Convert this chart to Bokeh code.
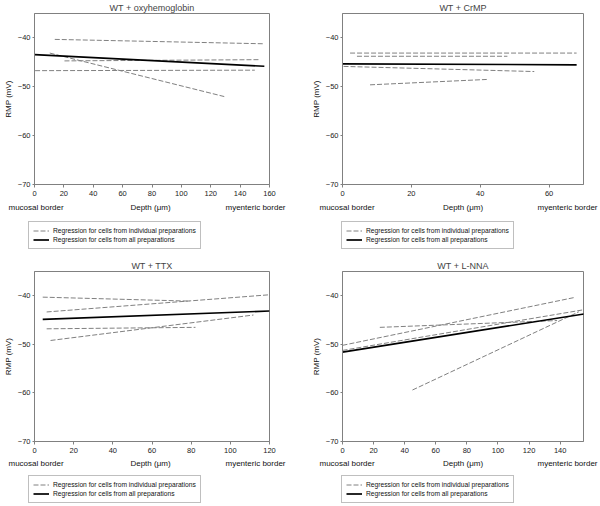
from bokeh.plotting import figure
from bokeh.models import ColumnDataSource, Range1d, FixedTicker, Legend, LegendItem
from bokeh.layouts import column, row
from bokeh.embed import file_html
from bokeh.resources import INLINE

FONT = "Liberation Sans"

titles = ["WT + oxyhemoglobin", "WT + CrMP", "WT + TTX", "WT + L-NNA"]
x_max = [160, 70, 120, 155]
x_ticks = [[0, 20, 40, 60, 80, 100, 120, 140, 160],
           [0, 20, 40, 60],
           [0, 20, 40, 60, 80, 100, 120],
           [0, 20, 40, 60, 80, 100, 120, 140]]
y_ticks = [-40, -50, -60, -70]
x_title = "Depth (\u03bcm)"
y_title = "RMP (mV)"
left_note = "mucosal border"
right_note = "myenteric border"
legend_labels = ["Regression for cells from individual preparations",
                 "Regression for cells from all preparations"]

# individual-preparation regressions (start x, end x, start y, end y)
oxy_x0 = [13.8, 10.4, 20.4, 0.4]
oxy_x1 = [156.5, 129.2, 152.5, 150.0]
oxy_y0 = [-40.3, -43.1, -44.7, -46.7]
oxy_y1 = [-41.2, -52.0, -44.45, -46.6]
oxy_all_x = [0.0, 156.5]
oxy_all_y = [-43.4, -45.8]

crmp_x0 = [2.2, 4.2, 0.3, 8.0]
crmp_x1 = [68.0, 47.9, 55.7, 41.9]
crmp_y0 = [-43.1, -43.75, -45.83, -49.6]
crmp_y1 = [-43.1, -43.75, -46.88, -48.5]
crmp_all_x = [0.0, 68.0]
crmp_all_y = [-45.3, -45.5]

ttx_x0 = [4.2, 6.2, 6.2, 8.2]
ttx_x1 = [79.4, 119.7, 82.2, 111.8]
ttx_y0 = [-40.28, -43.33, -46.8, -49.2]
ttx_y1 = [-41.1, -39.8, -46.5, -43.96]
ttx_all_x = [4.2, 120.0]
ttx_all_y = [-44.86, -43.13]

lnna_x0 = [0.0, 24.0, 0.0, 45.0]
lnna_x1 = [149.2, 138.0, 154.7, 152.0]
lnna_y0 = [-50.2, -46.5, -51.25, -59.4]
lnna_y1 = [-40.35, -45.1, -42.9, -43.3]
lnna_all_x = [0.0, 155.3]
lnna_all_y = [-51.6, -43.75]

panels = [
    (oxy_x0, oxy_x1, oxy_y0, oxy_y1, oxy_all_x, oxy_all_y),
    (crmp_x0, crmp_x1, crmp_y0, crmp_y1, crmp_all_x, crmp_all_y),
    (ttx_x0, ttx_x1, ttx_y0, ttx_y1, ttx_all_x, ttx_all_y),
    (lnna_x0, lnna_x1, lnna_y0, lnna_y1, lnna_all_x, lnna_all_y),
]

GREY = "#808080"
DASH = "5 2"
COL_W = [300, 298]
MAIN_H = [198, 197]
LOW_H = [60, 49]
LEG_Y = [9, 1]
TXT_FROM_TOP = [9, 8]


def geom(i):
    c = i % 2
    w = COL_W[c]
    # (min left border, right border, nominal frame left for notes, legend left)
    if c == 0:
        return w, 29, 31, 31, 28
    return w, 42, 15, 42, 41


def no_align(fig):
    try:
        fig.frame_align = False
    except Exception:
        pass


def make_panel(i):
    x0, x1, y0, y1, ax, ay = panels[i]
    w, bl, br, _, _ = geom(i)
    p = figure(width=w, height=MAIN_H[i // 2], output_backend="svg", toolbar_location=None,
               x_range=Range1d(0, x_max[i]), y_range=Range1d(-70, -35),
               min_border_left=bl, min_border_right=br,
               min_border_top=0, min_border_bottom=0)
    no_align(p)
    p.title.text = titles[i]
    p.title.align = "center"
    p.title.text_font = FONT
    p.title.text_font_size = "9px"
    p.title.text_font_style = "normal"
    p.title.standoff = 1
    p.xgrid.visible = False
    p.ygrid.visible = False
    p.outline_line_color = GREY
    p.outline_line_width = 1

    for ax_ in (p.xaxis[0], p.yaxis[0]):
        ax_.axis_line_color = GREY
        ax_.major_tick_line_color = GREY
        ax_.minor_tick_line_color = None
        ax_.major_tick_in = 0
        ax_.major_tick_out = 3
        ax_.major_label_text_font = FONT
        ax_.major_label_text_font_size = "7.5px"
        ax_.major_label_text_color = "#222222"
        ax_.major_label_standoff = 3
        ax_.axis_label_text_font = FONT
        ax_.axis_label_text_font_size = "8px"
        ax_.axis_label_text_font_style = "normal"
        ax_.axis_label_text_color = "#111111"
    p.yaxis.major_tick_out = 2
    p.yaxis.major_label_standoff = 2
    p.xaxis.ticker = FixedTicker(ticks=x_ticks[i])
    p.yaxis.ticker = FixedTicker(ticks=y_ticks)
    p.yaxis.axis_label = y_title
    p.yaxis.axis_label_standoff = 2

    src = ColumnDataSource(dict(xs=[[a, b] for a, b in zip(x0, x1)],
                                ys=[[c, d] for c, d in zip(y0, y1)]))
    p.multi_line("xs", "ys", source=src, line_color=GREY, line_width=1, line_dash=DASH)
    p.line(ax, ay, line_color="black", line_width=1.7)
    return p


def make_lower(i):
    w, bl, br, fl, leg_x = geom(i)
    h = LOW_H[i // 2]
    q = figure(width=w, height=h, output_backend="svg", toolbar_location=None,
               x_range=Range1d(0, w), y_range=Range1d(0, h),
               x_axis_type=None, y_axis_type=None,
               min_border_left=0, min_border_right=0, min_border_top=0, min_border_bottom=0)
    no_align(q)
    q.outline_line_color = None
    q.xgrid.visible = False
    q.ygrid.visible = False
    fr = w - br
    ty = h - TXT_FROM_TOP[i // 2]
    q.text(x=[fl - 23, (fl + fr) / 2, min(fr + 16, w - 1)], y=[ty, ty, ty],
           text=[left_note, x_title, right_note],
           text_align=["left", "center", "right"], text_baseline="middle",
           text_font={"value": FONT}, text_font_size="8px", text_color="#111111")
    # off-range dummy renderers only to supply legend glyphs
    r_ind = q.line(x=[-50, -40], y=[-50, -50], line_color=GREY, line_width=1, line_dash=DASH)
    r_all = q.line(x=[-50, -40], y=[-50, -50], line_color="black", line_width=1.7)
    legend = Legend(items=[
        LegendItem(label=legend_labels[0], renderers=[r_ind]),
        LegendItem(label=legend_labels[1], renderers=[r_all]),
    ], location=(leg_x, LEG_Y[i // 2]), orientation="vertical")
    legend.margin = 0
    legend.padding = 4
    legend.spacing = 0
    legend.glyph_width = 16
    legend.glyph_height = 9
    legend.label_height = 9
    legend.label_standoff = 4
    legend.label_text_font = FONT
    legend.label_text_font_size = "6.7px"
    legend.label_text_color = "#111111"
    legend.border_line_color = GREY
    legend.border_line_width = 1
    legend.background_fill_alpha = 1
    q.add_layout(legend, "center")
    return q


cells = [column(make_panel(i), make_lower(i)) for i in range(4)]
layout = column(row(cells[0], cells[1]), row(cells[2], cells[3]))

open("out.html", "w").write(file_html(layout, INLINE))
